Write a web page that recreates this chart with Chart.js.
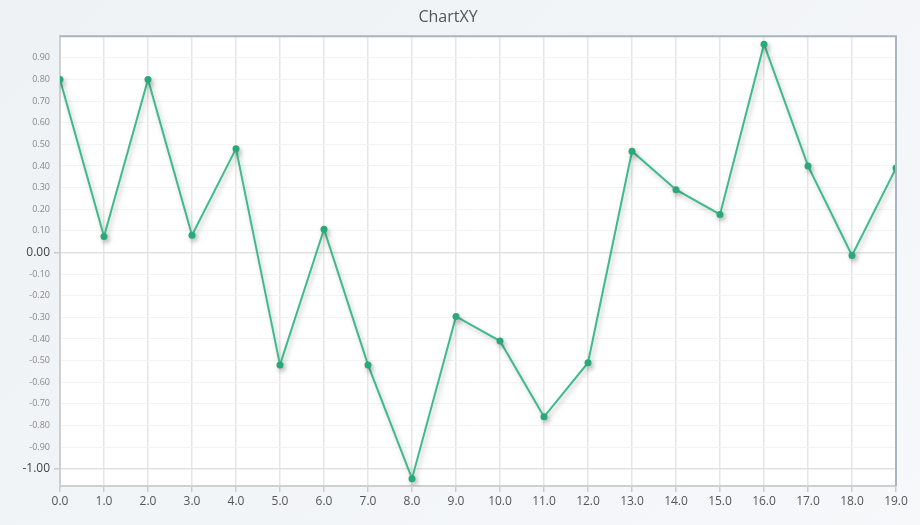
<!DOCTYPE html>
<html><head><meta charset="utf-8">
<script src="https://cdn.jsdelivr.net/npm/chart.js@4"></script>
<style>html,body{margin:0;padding:0;background:linear-gradient(135deg,#eef2f5,#f6f8fa);}#w{width:920px;height:525px;}</style>
</head><body><div id="w"><canvas id="c"></canvas></div>
<script>
const xValues=[0,1,2,3,4,5,6,7,8,9,10,11,12,13,14,15,16,17,18,19];
const yValues=[0.80,0.074,0.80,0.08,0.48,-0.52,0.107,-0.52,-1.046,-0.296,-0.41,-0.76,-0.51,0.468,0.29,0.176,0.963,0.40,-0.014,0.39];
const yTicks=[-1.0,-0.9,-0.8,-0.7,-0.6,-0.5,-0.4,-0.3,-0.2,-0.1,0,0.1,0.2,0.3,0.4,0.5,0.6,0.7,0.8,0.9];
const xTicks=xValues;
const isMajor=v=>Math.abs(v)<1e-6||Math.abs(v+1)<1e-6;
const M=ctx=>!!(ctx&&ctx.tick&&isMajor(ctx.tick.value));
const areaBg={id:'areaBg',beforeDraw(ch){const a=ch.chartArea,c=ch.ctx;c.save();c.fillStyle='#fff';c.fillRect(a.left,a.top,a.right-a.left,a.bottom-a.top);c.restore();},
afterDraw(ch){const a=ch.chartArea,c=ch.ctx;c.save();c.strokeStyle='#a8b4c0';c.lineWidth=2;c.beginPath();c.moveTo(a.left,a.top);c.lineTo(a.right,a.top);c.lineTo(a.right,a.bottom);c.stroke();c.restore();}};
const shadow={id:'shadow',beforeDatasetDraw(ch){const c=ch.ctx;c.save();c.shadowColor='rgba(0,0,0,0.25)';c.shadowBlur=5;c.shadowOffsetX=2;c.shadowOffsetY=3;},afterDatasetDraw(ch){ch.ctx.restore();}};
new Chart(document.getElementById('c'),{type:'line',
data:{datasets:[{data:xValues.map((x,i)=>({x,y:yValues[i]})),borderColor:'#3dbb8c',backgroundColor:'#2aa879',borderWidth:2,pointRadius:3.5,pointBorderWidth:0,tension:0}]},
plugins:[areaBg,shadow],
options:{responsive:true,maintainAspectRatio:false,animation:false,
layout:{padding:{left:0,right:24,bottom:0}},
plugins:{legend:{display:false},tooltip:{enabled:false},
title:{display:true,text:'ChartXY',color:'#555',font:{family:'Open Sans',size:16,weight:'normal'},padding:{top:8,bottom:9}}},
scales:{
x:{type:'linear',min:0,max:19,afterBuildTicks:s=>{s.ticks=xTicks.map(v=>({value:v}));},afterFit:s=>{s.height=39;},
ticks:{color:'#555',font:{family:'Open Sans',size:12},callback:v=>Number(v).toFixed(1),padding:2},
grid:{color:'#e6e6e6',lineWidth:1.5,tickLength:6,tickColor:'#ccc'},border:{color:'#cfcfcf',width:2}},
y:{min:-1.08,max:1.0,afterBuildTicks:s=>{s.ticks=yTicks.map(v=>({value:v}));},afterFit:s=>{s.width=60;},
ticks:{color:ctx=>M(ctx)?'#444':'#888',font:ctx=>({family:'Open Sans',size:M(ctx)?12:9}),callback:v=>Number(v).toFixed(2),padding:4},
grid:{color:ctx=>M(ctx)?'#e2e2e2':'#f3f3f3',lineWidth:ctx=>M(ctx)?1.5:1,tickLength:6,tickColor:ctx=>M(ctx)?'#ccc':'rgba(0,0,0,0)'},border:{color:'#cfcfcf',width:2}}
}}});
</script></body></html>
